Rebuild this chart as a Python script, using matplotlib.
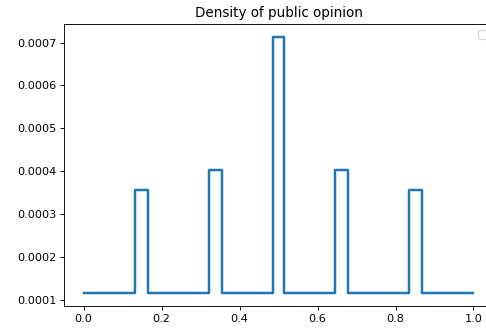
import matplotlib
matplotlib.use("Agg")
import matplotlib.pyplot as plt

# opinion value at the step changes, and density level between them
edges = [0.0, 0.132, 0.165, 0.323, 0.355, 0.485, 0.515, 0.645, 0.677, 0.835, 0.868, 1.0]
density = [0.000115, 0.000356, 0.000115, 0.000402, 0.000115, 0.000713,
           0.000115, 0.000402, 0.000115, 0.000356, 0.000115]

fig = plt.figure(figsize=(6, 4.05), dpi=81)
ax = fig.add_axes([0.1317, 0.0671, 0.8827, 0.859])

ax.step(edges, density + [density[-1]], where="post", color="tab:blue", linewidth=2.2)
ax.set_xlim(-0.05, 1.05)
ax.set_title("Density of public opinion")
ax.legend(handles=[])

fig.savefig("out.png", dpi=81)
